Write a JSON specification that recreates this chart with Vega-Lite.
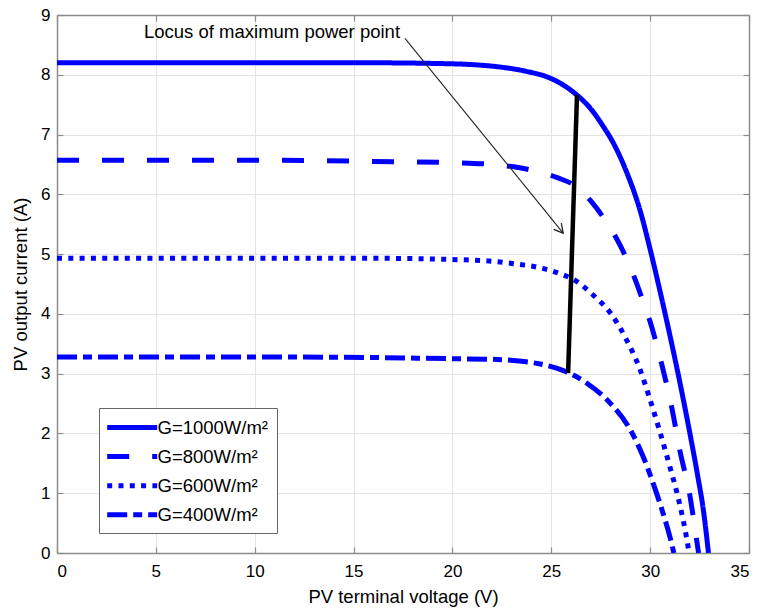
{
  "$schema": "https://vega.github.io/schema/vega-lite/v6.json",
  "autosize": {"type": "none"},
  "padding": {"left": 57, "top": 15, "right": 10, "bottom": 56},
  "width": 692,
  "height": 538,
  "background": "white",
  "config": {
    "font": "Liberation Sans",
    "view": {"stroke": null},
    "axis": {
      "domainColor": "#8c8c8c",
      "domainWidth": 1.5,
      "tickColor": "#8c8c8c",
      "tickWidth": 1.2,
      "tickSize": -6,
      "gridColor": "#e3e3e3",
      "gridWidth": 1,
      "labelColor": "black",
      "labelFontSize": 17,
      "titleColor": "black",
      "titleFontSize": 18.5,
      "titleFontWeight": "normal"
    }
  },
  "datasets": {
    "curves": [
      {"G": "G=1000W/m²", "V": 0, "I": 8.2},
      {"G": "G=1000W/m²", "V": 10, "I": 8.2},
      {"G": "G=1000W/m²", "V": 16, "I": 8.2},
      {"G": "G=1000W/m²", "V": 19, "I": 8.19},
      {"G": "G=1000W/m²", "V": 21, "I": 8.17},
      {"G": "G=1000W/m²", "V": 22.4, "I": 8.13},
      {"G": "G=1000W/m²", "V": 23.7, "I": 8.06},
      {"G": "G=1000W/m²", "V": 24.9, "I": 7.95},
      {"G": "G=1000W/m²", "V": 25.6, "I": 7.83},
      {"G": "G=1000W/m²", "V": 26.3, "I": 7.66},
      {"G": "G=1000W/m²", "V": 27.0, "I": 7.43},
      {"G": "G=1000W/m²", "V": 27.6, "I": 7.15},
      {"G": "G=1000W/m²", "V": 28.2, "I": 6.82},
      {"G": "G=1000W/m²", "V": 28.8, "I": 6.38},
      {"G": "G=1000W/m²", "V": 29.5, "I": 5.72},
      {"G": "G=1000W/m²", "V": 30.0, "I": 5.08},
      {"G": "G=1000W/m²", "V": 30.5, "I": 4.38},
      {"G": "G=1000W/m²", "V": 31.0, "I": 3.64},
      {"G": "G=1000W/m²", "V": 31.5, "I": 2.86},
      {"G": "G=1000W/m²", "V": 32.0, "I": 2.02},
      {"G": "G=1000W/m²", "V": 32.4, "I": 1.3},
      {"G": "G=1000W/m²", "V": 32.7, "I": 0.7},
      {"G": "G=1000W/m²", "V": 32.95, "I": 0},
      {"G": "G=800W/m²", "V": 0, "I": 6.57},
      {"G": "G=800W/m²", "V": 10, "I": 6.57},
      {"G": "G=800W/m²", "V": 16, "I": 6.55},
      {"G": "G=800W/m²", "V": 20, "I": 6.53},
      {"G": "G=800W/m²", "V": 22, "I": 6.5},
      {"G": "G=800W/m²", "V": 23.1, "I": 6.46},
      {"G": "G=800W/m²", "V": 24.3, "I": 6.38},
      {"G": "G=800W/m²", "V": 25.3, "I": 6.28},
      {"G": "G=800W/m²", "V": 26.3, "I": 6.12},
      {"G": "G=800W/m²", "V": 27.05, "I": 5.87},
      {"G": "G=800W/m²", "V": 27.7, "I": 5.58},
      {"G": "G=800W/m²", "V": 28.3, "I": 5.26},
      {"G": "G=800W/m²", "V": 28.8, "I": 4.93},
      {"G": "G=800W/m²", "V": 29.25, "I": 4.57},
      {"G": "G=800W/m²", "V": 29.6, "I": 4.25},
      {"G": "G=800W/m²", "V": 30.0, "I": 3.87},
      {"G": "G=800W/m²", "V": 30.6, "I": 3.14},
      {"G": "G=800W/m²", "V": 31.1, "I": 2.42},
      {"G": "G=800W/m²", "V": 31.5, "I": 1.72},
      {"G": "G=800W/m²", "V": 32.0, "I": 0.98},
      {"G": "G=800W/m²", "V": 32.35, "I": 0.22},
      {"G": "G=800W/m²", "V": 32.45, "I": 0},
      {"G": "G=600W/m²", "V": 0, "I": 4.93},
      {"G": "G=600W/m²", "V": 10, "I": 4.93},
      {"G": "G=600W/m²", "V": 16, "I": 4.93},
      {"G": "G=600W/m²", "V": 20, "I": 4.91},
      {"G": "G=600W/m²", "V": 22, "I": 4.88},
      {"G": "G=600W/m²", "V": 23.1, "I": 4.84},
      {"G": "G=600W/m²", "V": 24.3, "I": 4.78},
      {"G": "G=600W/m²", "V": 25.3, "I": 4.69},
      {"G": "G=600W/m²", "V": 26.3, "I": 4.54},
      {"G": "G=600W/m²", "V": 27.1, "I": 4.32},
      {"G": "G=600W/m²", "V": 28.0, "I": 4.01},
      {"G": "G=600W/m²", "V": 28.8, "I": 3.57},
      {"G": "G=600W/m²", "V": 29.5, "I": 3.06},
      {"G": "G=600W/m²", "V": 30.0, "I": 2.56},
      {"G": "G=600W/m²", "V": 30.5, "I": 2.02},
      {"G": "G=600W/m²", "V": 31.0, "I": 1.44},
      {"G": "G=600W/m²", "V": 31.45, "I": 0.88},
      {"G": "G=600W/m²", "V": 31.85, "I": 0.24},
      {"G": "G=600W/m²", "V": 31.97, "I": 0},
      {"G": "G=400W/m²", "V": 0, "I": 3.28},
      {"G": "G=400W/m²", "V": 10, "I": 3.28},
      {"G": "G=400W/m²", "V": 16, "I": 3.27},
      {"G": "G=400W/m²", "V": 20, "I": 3.25},
      {"G": "G=400W/m²", "V": 22, "I": 3.24},
      {"G": "G=400W/m²", "V": 23.1, "I": 3.22},
      {"G": "G=400W/m²", "V": 24.3, "I": 3.17},
      {"G": "G=400W/m²", "V": 25.3, "I": 3.09},
      {"G": "G=400W/m²", "V": 25.85, "I": 3.02},
      {"G": "G=400W/m²", "V": 26.8, "I": 2.84},
      {"G": "G=400W/m²", "V": 28.0, "I": 2.5},
      {"G": "G=400W/m²", "V": 29.0, "I": 2.06},
      {"G": "G=400W/m²", "V": 29.65, "I": 1.61},
      {"G": "G=400W/m²", "V": 30.15, "I": 1.17},
      {"G": "G=400W/m²", "V": 30.6, "I": 0.72},
      {"G": "G=400W/m²", "V": 31.0, "I": 0.27},
      {"G": "G=400W/m²", "V": 31.2, "I": 0}
    ],
    "locus": [
      {"V": 25.85, "I": 3.01},
      {"V": 26.3, "I": 7.66}
    ],
    "arrow": [
      {"V": 17.6, "I": 8.61},
      {"V": 25.6, "I": 5.35}
    ],
    "arrowhead": [
      {"V": 25.6, "I": 5.35}
    ],
    "label": [
      {"V": 4.4, "I": 8.62, "text": "Locus of maximum power point"}
    ]
  },
  "layer": [
    {
      "data": {"name": "curves"},
      "mark": {"type": "line", "color": "#0000ff", "strokeWidth": 5, "interpolate": "monotone", "clip": true},
      "encoding": {
        "x": {
          "field": "V", "type": "quantitative",
          "scale": {"domain": [0, 35], "nice": false, "zero": false},
          "axis": {"orient": "bottom", "values": [0, 5, 10, 15, 20, 25, 30, 35], "grid": true, "title": "PV terminal voltage (V)", "labelPadding": 16.5, "titlePadding": 8}
        },
        "y": {
          "field": "I", "type": "quantitative",
          "scale": {"domain": [0, 9], "nice": false, "zero": false},
          "axis": {"orient": "left", "values": [0, 1, 2, 3, 4, 5, 6, 7, 8, 9], "grid": true, "title": "PV output current (A)", "labelPadding": 13, "titlePadding": 10}
        },
        "strokeDash": {
          "field": "G", "type": "nominal",
          "scale": {
            "domain": ["G=1000W/m²", "G=800W/m²", "G=600W/m²", "G=400W/m²"],
            "range": [[1, 0], [22, 23], [5, 6.3], [20, 6, 9, 6]]
          },
          "legend": {
            "orient": "none", "legendX": 42, "legendY": 393,
            "title": null,
            "symbolType": "M-1.256,0L4.3,0", "symbolSize": 324, "symbolStrokeWidth": 5,
            "symbolStrokeColor": "#0000ff", "symbolFillColor": "transparent",
            "labelFontSize": 18.5, "labelColor": "black", "labelOffset": 27.5,
            "strokeColor": "#666666", "fillColor": "white",
            "padding": 8, "rowPadding": 7.1
          }
        }
      }
    },
    {
      "data": {"name": "locus"},
      "mark": {"type": "line", "color": "black", "strokeWidth": 4.5},
      "encoding": {
        "x": {"field": "V", "type": "quantitative", "axis": {"orient": "top", "values": [0, 5, 10, 15, 20, 25, 30, 35], "labels": false, "title": null, "grid": false}},
        "y": {"field": "I", "type": "quantitative", "axis": {"orient": "right", "values": [0, 1, 2, 3, 4, 5, 6, 7, 8, 9], "labels": false, "title": null, "grid": false}}
      }
    },
    {
      "data": {"name": "arrow"},
      "mark": {"type": "line", "color": "#222222", "strokeWidth": 1.1},
      "encoding": {
        "x": {"field": "V", "type": "quantitative", "axis": null},
        "y": {"field": "I", "type": "quantitative", "axis": null}
      }
    },
    {
      "data": {"name": "arrowhead"},
      "mark": {"type": "point", "shape": "M-1,-0.55L0,0L-1,0.55", "filled": false, "stroke": "#222222", "strokeWidth": 1.3, "size": 324, "angle": 51, "opacity": 1},
      "encoding": {
        "x": {"field": "V", "type": "quantitative", "axis": null},
        "y": {"field": "I", "type": "quantitative", "axis": null}
      }
    },
    {
      "data": {"name": "label"},
      "mark": {"type": "text", "align": "left", "baseline": "alphabetic", "fontSize": 18.5, "color": "black"},
      "encoding": {
        "x": {"field": "V", "type": "quantitative", "axis": null},
        "y": {"field": "I", "type": "quantitative", "axis": null},
        "text": {"field": "text", "type": "nominal"}
      }
    }
  ],
  "resolve": {"axis": {"x": "independent", "y": "independent"}}
}
